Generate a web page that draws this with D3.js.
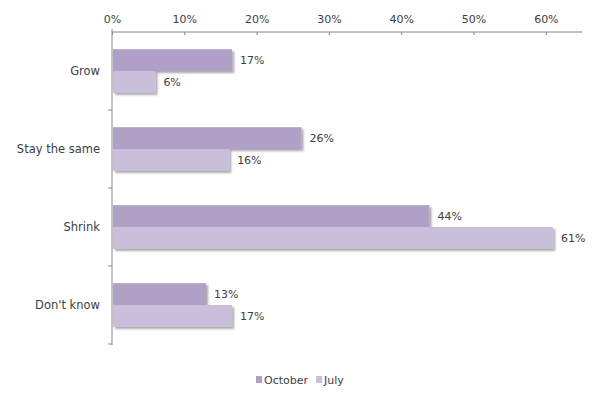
<!DOCTYPE html>
<html><head><meta charset="utf-8">
<script src="https://cdn.jsdelivr.net/npm/d3@7"></script>
<style>body{margin:0;background:#fff}svg{display:block}text{font-family:"DejaVu Sans",Verdana,sans-serif;fill:#404040}</style>
</head><body>
<script>
const categories = ["Grow", "Stay the same", "Shrink", "Don't know"];
const seriesNames = ["October", "July"];
const october = [16.6, 26.2, 43.9, 13.0];
const july = [6.0, 16.2, 61.0, 16.6];
const octoberLabels = ["17%", "26%", "44%", "13%"];
const julyLabels = ["6%", "16%", "61%", "17%"];
const xTicks = [0, 10, 20, 30, 40, 50, 60];
const colors = ["#b0a0c8", "#c9bedc"];

(function () {
const W = 599, H = 399;
const svg = d3.select("body").append("svg").attr("width", W).attr("height", H);
const defs = svg.append("defs");
const f = defs.append("filter").attr("id", "sh").attr("x", "-10%").attr("y", "-20%").attr("width", "130%").attr("height", "160%");
f.append("feDropShadow").attr("dx", 2).attr("dy", 2).attr("stdDeviation", 1.2).attr("flood-color", "#000").attr("flood-opacity", 0.35);

const mLeft = 112, mRight = 582, mTop = 32, mBottom = 344;
const x = d3.scaleLinear().domain([0, 65]).range([mLeft, mRight]);
const y = d3.scaleBand().domain(categories).range([mTop, mBottom]).paddingInner(0.44).paddingOuter(0.22);
const ySub = d3.scaleBand().domain(seriesNames).range([0, y.bandwidth()]);
const yTicks = d3.scaleBand().domain(categories).range([mTop, mBottom]);

const xAxis = svg.append("g").attr("transform", `translate(0,${mTop})`)
  .call(d3.axisTop(x).tickValues(xTicks).tickFormat(d => d + "%").tickSize(-3).tickPadding(9));
xAxis.select(".domain").attr("stroke", "#868686").attr("d", `M${mLeft},0H${mRight}`);
xAxis.selectAll(".tick line").attr("stroke", "#868686");
xAxis.selectAll("text").style("font-size", "11px").attr("fill", "#404040");

svg.append("line").attr("x1", mLeft).attr("x2", mLeft).attr("y1", mTop - 3).attr("y2", mBottom + 1).attr("stroke", "#868686");
categories.forEach(c => {
  const yy = yTicks(c) + yTicks.bandwidth();
  svg.append("line").attr("x1", mLeft - 4).attr("x2", mLeft).attr("y1", yy).attr("y2", yy).attr("stroke", "#868686");
});

svg.selectAll("text.cat").data(categories).join("text").attr("class", "cat")
  .attr("x", 100).attr("y", d => y(d) + y.bandwidth() / 2).attr("dy", "0.35em")
  .attr("text-anchor", "end").style("font-size", "11.5px").text(d => d);

const series = [
  { name: "October", values: october, labels: octoberLabels, color: colors[0] },
  { name: "July", values: july, labels: julyLabels, color: colors[1] }
];
series.forEach(s => {
  const g = svg.append("g");
  g.selectAll("rect").data(categories).join("rect")
    .attr("x", x(0) + 1).attr("y", (c) => y(c) + ySub(s.name))
    .attr("width", (c, i) => x(s.values[i]) - x(0) - 1).attr("height", ySub.bandwidth())
    .attr("fill", s.color).attr("filter", "url(#sh)");
  g.selectAll("text").data(categories).join("text")
    .attr("x", (c, i) => x(s.values[i]) + 8).attr("y", c => y(c) + ySub(s.name) + ySub.bandwidth() / 2)
    .attr("dy", "0.35em").style("font-size", "11px").text((c, i) => s.labels[i]);
});

const leg = svg.append("g").attr("transform", "translate(256,380)");
let lx = 0;
series.forEach(s => {
  leg.append("rect").attr("x", lx).attr("y", -4).attr("width", 6).attr("height", 7).attr("fill", s.color);
  const t = leg.append("text").attr("x", lx + 8).attr("y", 0).attr("dy", "0.35em").style("font-size", "11px").text(s.name);
  lx += 8 + t.node().getComputedTextLength() + 8;
});
})();
</script>
</body></html>
